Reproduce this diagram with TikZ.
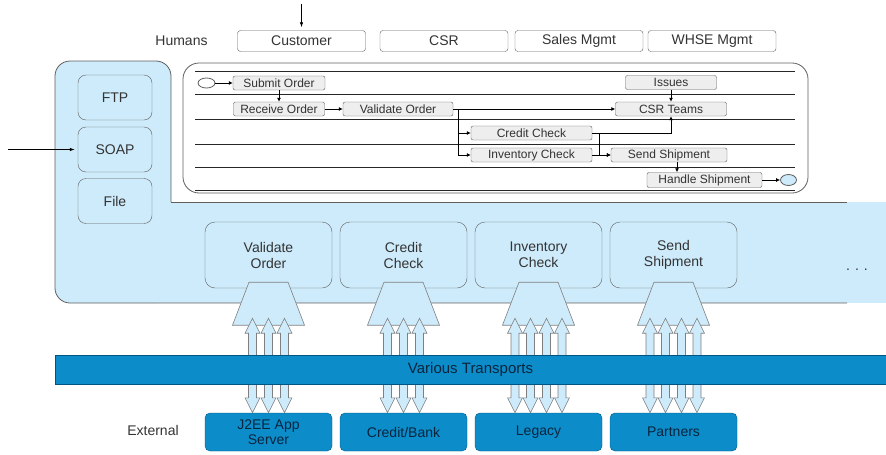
\documentclass[tikz,border=0pt]{standalone}
\usepackage{fontspec}
\setmainfont{Liberation Sans}
\usepackage{xcolor}
\usepackage{tikz}
\usetikzlibrary{shapes.geometric, arrows.meta, calc}

\definecolor{pale}{RGB}{206, 235, 251}
\definecolor{sea}{RGB}{12, 141, 201}
\definecolor{deep}{RGB}{0, 84, 130}
\definecolor{navy}{RGB}{10, 36, 62}
\definecolor{ink}{RGB}{51, 51, 51}
\definecolor{rim}{RGB}{95, 95, 95}
\definecolor{chip}{RGB}{238, 238, 238}

\tikzset{
    actor/.style = {draw = rim, rounded corners = 3pt, minimum width = 128pt, minimum height = 21pt, inner sep = 0pt, text = ink, font = \fontsize{14}{16}\selectfont},
    port/.style = {draw = rim, fill = pale, rounded corners = 8pt, minimum width = 74pt, minimum height = 45pt, inner sep = 0pt, text = ink, font = \fontsize{14}{16}\selectfont},
    pool/.style = {draw = rim, fill = white, rounded corners = 16pt, line width = 0.8pt, minimum width = 625pt, minimum height = 130pt, inner sep = 0pt},
    lane/.style = {draw = black!85, line width = 1pt},
    task/.style = {draw = rim, fill = chip, rounded corners = 2pt, minimum height = 14pt, inner sep = 0pt, text = ink, font = \fontsize{12}{14}\selectfont},
    event/.style = {ellipse, draw = rim, line width = 0.8pt, minimum width = 17pt, minimum height = 10pt, inner sep = 0pt},
    flow/.style = {line width = 1pt, -{Latex[length = 4pt, width = 4pt]}},
    feed/.style = {line width = 0.8pt, shorten > = 3pt, -{Latex[length = 5pt, width = 3.5pt]}},
    service/.style = {draw = rim, fill = pale, rounded corners = 10pt, minimum width = 127pt, minimum height = 66pt, inner sep = 0pt, align = center, text = ink, font = \fontsize{14}{16}\selectfont},
    funnel/.style = {draw = rim!80, fill = pale, line width = 0.6pt},
    system/.style = {draw = deep, fill = sea, rounded corners = 5pt, minimum width = 127pt, minimum height = 38pt, inner sep = 0pt, align = center, text = navy, font = \fontsize{14}{15}\selectfont},
    band/.style = {draw = deep, fill = sea, minimum width = 831pt, minimum height = 29pt, inner sep = 0pt, text = navy, font = \fontsize{15}{17}\selectfont},
    caption/.style = {inner sep = 0pt, text = ink, font = \fontsize{14}{16}\selectfont},
    duplex/.style = {draw = rim!80, fill = pale, line width = 0.6pt, to path = {let \p1 = (\tikztostart), \p2 = (\tikztotarget) in (\x1, \y1) -- (\x1 + 7.5pt, \y1 - 15pt) -- (\x1 + 4pt, \y1 - 15pt) -- (\x1 + 4pt, \y2 + 15pt) -- (\x1 + 7.5pt, \y2 + 15pt) -- (\x1, \y2) -- (\x1 - 7.5pt, \y2 + 15pt) -- (\x1 - 4pt, \y2 + 15pt) -- (\x1 - 4pt, \y1 - 15pt) -- (\x1 - 7.5pt, \y1 - 15pt) -- cycle}}
}

\begin{document}
\begin{tikzpicture}[x = 1pt, y = -1pt]
        \useasboundingbox (0, 0) rectangle (886, 455);
        \fill [pale, rounded corners = 15pt] (55, 61) rectangle (171, 303);
        \fill [pale] (150, 202) rectangle (886, 303);
        \draw [rim, line width = 0.8pt, rounded corners = 15pt] (171, 202) -- (171, 61) -- (55, 61) -- (55, 303) -- (847, 303);
        \draw [rim, line width = 0.8pt] (171, 202) -- (847, 202);
        \node (1) at (301.5, 41) [actor] {Customer};
        \node (2) at (444, 41) [actor] {CSR};
        \node (3) at (579, 41) [actor] {Sales Mgmt};
        \node (4) at (712, 41) [actor] {WHSE Mgmt};
        \node (5) at (181.5, 41) [caption] {Humans};
        \node (6) at (115, 97.5) [port] {FTP};
        \node (7) at (115, 149.5) [port] {SOAP};
        \node (8) at (115, 201) [port] {File};
        \node (9) at (495.5, 128) [pool] {};
        \draw [lane] (195, 71) -- (795, 71);
        \draw [lane] (195, 94) -- (795, 94);
        \draw [lane] (195, 119) -- (795, 119);
        \draw [lane] (195, 144) -- (795, 144);
        \draw [lane] (195, 167) -- (795, 167);
        \draw [lane] (195, 190) -- (795, 190);
        \node (10) at (206.5, 83) [event, fill = white] {};
        \node (11) at (279, 83) [task, minimum width = 92pt] {Submit Order};
        \node (12) at (279, 109) [task, minimum width = 91pt] {Receive Order};
        \node (13) at (398, 109) [task, minimum width = 110pt] {Validate Order};
        \node (14) at (531.5, 133) [task, minimum width = 121pt] {Credit Check};
        \node (15) at (531.5, 155) [task, minimum width = 121pt] {Inventory Check};
        \node (16) at (671, 82.5) [task, minimum width = 91pt] {Issues};
        \node (17) at (671, 109) [task, minimum width = 111pt] {CSR Teams};
        \node (18) at (669, 155) [task, minimum width = 116pt] {Send Shipment};
        \node (19) at (704.5, 180) [task, minimum width = 115pt, minimum height = 15pt] {Handle Shipment};
        \node (20) at (788.5, 180) [event, fill = pale, minimum width = 16pt, minimum height = 11pt] {};
        \draw [flow] (10) edge (11);
        \draw [flow] (11) edge (12);
        \draw [flow] (12) edge (13);
        \draw [flow] (13) edge (17);
        \draw [flow] (13.east) -- ++(5, 0) |- (14);
        \draw [flow] (13.east) -- ++(5, 0) |- (15);
        \draw [flow] (14.east) -| (17.south);
        \draw [flow] (14.east) -- ++(7, 0) |- (18);
        \draw [flow] (15) edge (18);
        \draw [flow] (16) edge (17);
        \draw [flow] ([xshift = 8pt]18.south) -- ([xshift = -27.5pt]19.north);
        \draw [flow] (19) edge (20);
        \coordinate (36) at (301.5, 4);
        \draw [feed] (36) -- (1);
        \coordinate (37) at (8, 149.5);
        \draw [feed] (37) -- (7);
        \node (21) at (268.5, 255) [service] {Validate\\Order};
        \node (22) at (403.5, 255) [service] {Credit\\Check};
        \node (23) at (538.5, 255) [service] {Inventory\\Check};
        \node (24) at (673.5, 255) [service] {Send\\Shipment};
        \draw [funnel] ([shift = {(-19.5, -6)}]21.south) -- ([shift = {(19.5, -6)}]21.south) -- ([shift = {(36, 37)}]21.south) -- ([shift = {(-36, 37)}]21.south) -- cycle;
        \draw [funnel] ([shift = {(-19.5, -6)}]22.south) -- ([shift = {(19.5, -6)}]22.south) -- ([shift = {(36, 37)}]22.south) -- ([shift = {(-36, 37)}]22.south) -- cycle;
        \draw [funnel] ([shift = {(-19.5, -6)}]23.south) -- ([shift = {(19.5, -6)}]23.south) -- ([shift = {(36, 37)}]23.south) -- ([shift = {(-36, 37)}]23.south) -- cycle;
        \draw [funnel] ([shift = {(-19.5, -6)}]24.south) -- ([shift = {(19.5, -6)}]24.south) -- ([shift = {(36, 37)}]24.south) -- ([shift = {(-36, 37)}]24.south) -- cycle;
        \node (29) at (268.5, 432) [system] {J2EE App\\Server};
        \node (30) at (403.5, 432) [system] {Credit/Bank};
        \node (31) at (538.5, 432) [system] {Legacy};
        \node (32) at (673.5, 432) [system] {Partners};
        \draw [duplex] ([shift = {(-16, 30)}]21.south) to ([xshift = -16pt]29.north);
        \draw [duplex] ([shift = {(0, 30)}]21.south) to ([xshift = 0pt]29.north);
        \draw [duplex] ([shift = {(16, 30)}]21.south) to ([xshift = 16pt]29.north);
        \draw [duplex] ([shift = {(-16, 30)}]22.south) to ([xshift = -16pt]30.north);
        \draw [duplex] ([shift = {(0, 30)}]22.south) to ([xshift = 0pt]30.north);
        \draw [duplex] ([shift = {(16, 30)}]22.south) to ([xshift = 16pt]30.north);
        \draw [duplex] ([shift = {(-23.5, 30)}]23.south) to ([xshift = -23.5pt]31.north);
        \draw [duplex] ([shift = {(-8, 30)}]23.south) to ([xshift = -8pt]31.north);
        \draw [duplex] ([shift = {(8, 30)}]23.south) to ([xshift = 8pt]31.north);
        \draw [duplex] ([shift = {(23.5, 30)}]23.south) to ([xshift = 23.5pt]31.north);
        \draw [duplex] ([shift = {(-23.5, 30)}]24.south) to ([xshift = -23.5pt]32.north);
        \draw [duplex] ([shift = {(-8, 30)}]24.south) to ([xshift = -8pt]32.north);
        \draw [duplex] ([shift = {(8, 30)}]24.south) to ([xshift = 8pt]32.north);
        \draw [duplex] ([shift = {(23.5, 30)}]24.south) to ([xshift = 23.5pt]32.north);
        \node (33) at (470.5, 369.5) [band] {Various Transports};
        \node (34) at (153, 430) [caption] {External};
        \node (35) at (857, 270) [caption] {.\hspace{5pt}.\hspace{5pt}.};
\end{tikzpicture}
\end{document}
